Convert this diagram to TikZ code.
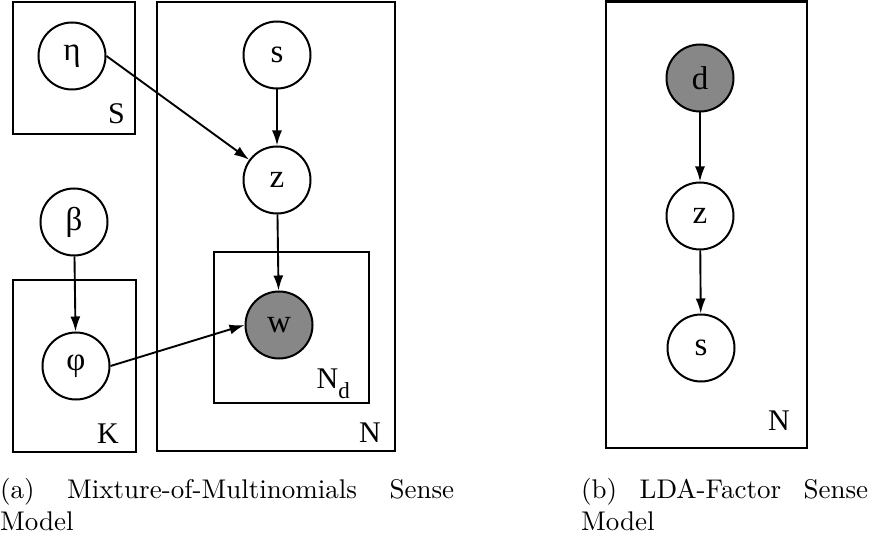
\documentclass[tikz,border=0pt]{standalone}
\usepackage{fontspec}
\usetikzlibrary{arrows.meta}
\newfontfamily\labelfont{Liberation Serif}
\newfontfamily\capfont{lmroman10-regular}[Extension=.otf]
\definecolor{obsgray}{RGB}{135,135,135}

\begin{document}
\begin{tikzpicture}[x=1pt,y=-1pt,
  var/.style={circle,draw,line width=2pt,minimum size=67pt,inner sep=0pt,
              font=\labelfont\fontsize{33}{33}\selectfont},
  obs/.style={var,fill=obsgray},
  plate/.style={draw,line width=2.2pt},
  platelabel/.style={font=\labelfont\fontsize{30}{30}\selectfont,inner sep=0pt,anchor=base east},
  edge/.style={-{Latex[length=15pt,width=10pt]},line width=1.9pt},
  caption/.style={font=\capfont\fontsize{27}{32}\selectfont,inner sep=0pt,
                  anchor=base west,align=left}]
\useasboundingbox (0,0) rectangle (870,540);

% (a) mixture-of-multinomials model: plates
\draw[plate] (13,2) rectangle (135,134);
\draw[plate] (13,280) rectangle (136,452);
\draw[plate] (157,2) rectangle (395,451);
\draw[plate] (214,252) rectangle (369,403);
\node[platelabel] (lS) at (125,124) {S};
\node[platelabel] (lK) at (119,443) {K};
\node[platelabel] (lN) at (381,442) {N};
\node[platelabel] (lNd) at (350,388) {N\raisebox{-10pt}{\fontsize{23}{23}\selectfont d}};

% (a) variables
\node[var] (eta)  at (72,56)  {η};
\node[var] (s)    at (277,55) {s};
\node[var] (z)    at (277,180) {z};
\node[var] (beta) at (74,222) {β};
\node[var] (phi)  at (76,366) {φ};
\node[obs] (w)    at (279,325) {w};

\draw[edge] (eta.east) -- (z);
\draw[edge] (s) -- (z);
\draw[edge] (z) -- (w);
\draw[edge] (beta) -- (phi);
\draw[edge] (phi.east) -- (w.west);

% (b) LDA-factor model
\draw[plate] (606,1.5) rectangle (807,448);
\node[platelabel] (lN2) at (790,430) {N};
\node[obs] (d)  at (700,78)  {d};
\node[var] (z2) at (700,216) {z};
\node[var] (s2) at (701,348) {s};
\draw[edge] (d) -- (z2);
\draw[edge] (z2) -- (s2);

% captions
\node[caption,text width=454pt] (capa) at (0,498)
  {(a)\hfill Mixture-of-Multinomials\hfill Sense\\Model};
\node[caption,text width=287pt] (capb) at (581,498)
  {(b)\hfill LDA-Factor\hfill Sense\\Model};
\end{tikzpicture}
\end{document}
